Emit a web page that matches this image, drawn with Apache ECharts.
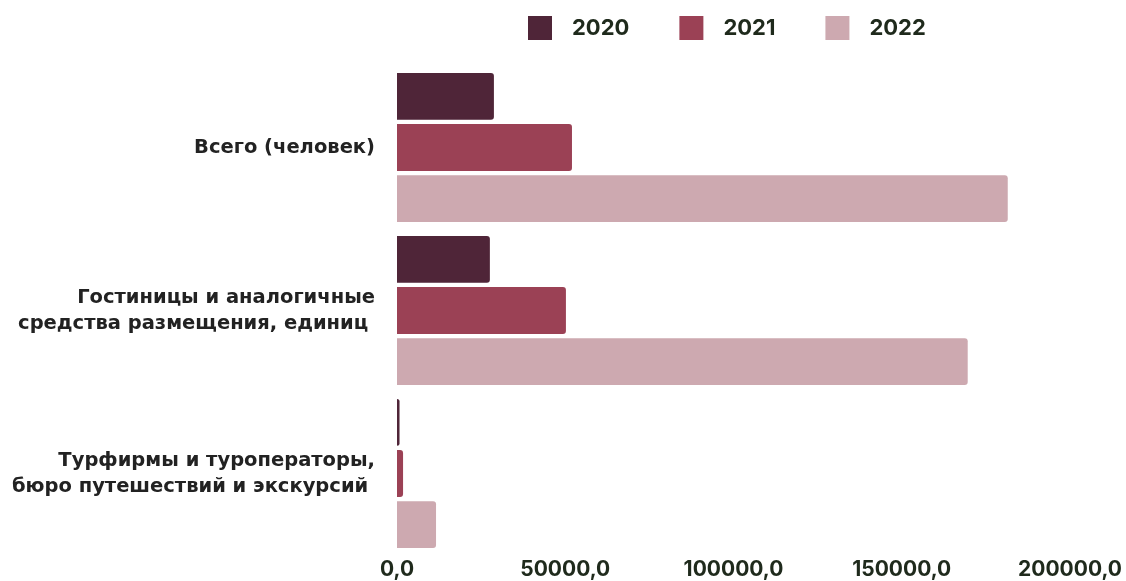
<!DOCTYPE html>
<html>
<head>
<meta charset="utf-8">
<script src="https://cdn.jsdelivr.net/npm/echarts@6/dist/echarts.min.js"></script>
<style>html,body{margin:0;padding:0;background:#fff}#c{width:1126px;height:581px}</style>
</head>
<body>
<div id="c"></div>
<script>
const categories = ['Всего (человек)', 'Гостиницы и аналогичные\nсредства размещения, единиц ', 'Турфирмы и туроператоры,\nбюро путешествий и экскурсий '];
const seriesNames = ['2020', '2021', '2022'];
const values2020 = [28800, 27600, 750];
const values2021 = [52000, 50200, 1800];
const values2022 = [181500, 169600, 11600];
const colors = ['#4f2538', '#9b4155', '#cda9b0'];
const tickMax = 200000;
const tickInterval = 50000;

const chart = echarts.init(document.getElementById('c'));
const font = 'Inter, "Noto Sans", sans-serif';
const catFont = '"DejaVu Sans", sans-serif';
const dataSets = [values2020, values2021, values2022];
chart.setOption({
  animation: false,
  textStyle: {fontFamily: font},
  legend: {
    left: 523, top: 11,
    itemWidth: 24, itemHeight: 24, itemGap: 50,
    icon: 'rect',
    textStyle: {fontFamily: font, fontWeight: 'bold', fontSize: 22, color: '#1f2a1c', padding: [0, 0, 0, 15]},
    data: seriesNames.map(n => ({name: n, itemStyle: {borderRadius: 2}}))
  },
  grid: {left: 397, right: 56, top: 66, bottom: 26, containLabel: false},
  xAxis: {
    type: 'value', min: 0, max: tickMax, interval: tickInterval,
    axisLine: {show: false}, axisTick: {show: false}, splitLine: {show: false},
    axisLabel: {
      margin: 4,
      fontFamily: font, fontWeight: 'bold', fontSize: 21, color: '#1f2a1c',
      formatter: v => v.toFixed(1).replace('.', ',')
    }
  },
  yAxis: {
    type: 'category', inverse: true, data: categories,
    axisLine: {show: false}, axisTick: {show: false},
    axisLabel: {margin: 22, fontFamily: catFont, fontWeight: 'bold', fontSize: 19.5, color: '#222', lineHeight: 26, align: 'right'}
  },
  series: seriesNames.map((n, i) => ({
    name: n, type: 'bar', data: dataSets[i],
    barCategoryGap: '8.6%', barGap: '9%',
    itemStyle: {color: colors[i], borderRadius: [0, 3, 3, 0]}
  }))
});
</script>
</body>
</html>
